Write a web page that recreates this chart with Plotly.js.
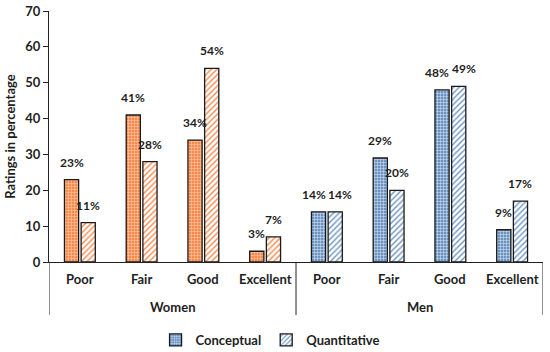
<!DOCTYPE html>
<html>
<head>
<meta charset="utf-8">
<script src="https://cdn.plot.ly/plotly-3.0.1.min.js"></script>
<style>html,body{margin:0;padding:0;background:#fff;}#chart{width:550px;height:352px;}</style>
</head>
<body>
<div id="chart"></div>
<script>
var ratings = ["Poor", "Fair", "Good", "Excellent"];
var groups = ["Women", "Men"];
var womenConceptual = [23, 41, 34, 3];
var womenQuantitative = [11, 28, 54, 7];
var menConceptual = [14, 29, 48, 9];
var menQuantitative = [14, 20, 49, 17];
var yTicks = [0, 10, 20, 30, 40, 50, 60, 70];

var FONT = "Lato, 'Open Sans', sans-serif";
var TXT = "#1e1e1e";
var orange = "#F7884C", orangeLight = "#FDC9A8";
var blue = "#6A93C2", blueLight = "#CCDCEE";

function keys(group) {
  return ratings.map(function(r){ return group + " " + r; });
}
function conceptualTrace(group, vals, col, light, show) {
  return {
    type: "bar", name: "Conceptual", x: keys(group), y: vals,
    offsetgroup: "c", legendgroup: "c", showlegend: show,
    marker: {color: col, line: {color: "#1a1a1a", width: 1.3},
      pattern: {shape: "+", fgcolor: light, bgcolor: col, size: 3, solidity: 0.35}},
    hoverinfo: "skip"
  };
}
function quantTrace(group, vals, col, show) {
  return {
    type: "bar", name: "Quantitative", x: keys(group), y: vals,
    offsetgroup: "q", legendgroup: "q", showlegend: show,
    marker: {color: "#ffffff", line: {color: "#1a1a1a", width: 1.3},
      pattern: {shape: "/", fgcolor: col, bgcolor: "#ffffff", size: 4, solidity: 0.35}},
    hoverinfo: "skip"
  };
}

var data = [
  conceptualTrace(groups[0], womenConceptual, orange, orangeLight, false),
  quantTrace(groups[0], womenQuantitative, orange, false),
  conceptualTrace(groups[1], menConceptual, blue, blueLight, true),
  quantTrace(groups[1], menQuantitative, blue, true)
];

var BARGAP = 0.46;
var CAT_PX = 494 / 8;
var halfSlot = (1 - BARGAP) * CAT_PX / 4;

var annotations = [];
var labelFont = {family: FONT, size: 12, color: TXT, weight: "bold"};
function addValueLabels(group, vals, other, sign) {
  keys(group).forEach(function(k, i) {
    var close = Math.abs(vals[i] - other[i]) < 4;
    annotations.push({x: k, y: vals[i], xref: "x", yref: "y", text: vals[i] + "%",
      showarrow: false, xshift: sign * (halfSlot + (close ? 5 : 0)), yanchor: "bottom", yshift: 8,
      font: labelFont});
  });
}
addValueLabels(groups[0], womenConceptual, womenQuantitative, -1);
addValueLabels(groups[0], womenQuantitative, womenConceptual, 1);
addValueLabels(groups[1], menConceptual, menQuantitative, -1);
addValueLabels(groups[1], menQuantitative, menConceptual, 1);

var catFont = {family: FONT, size: 13, color: TXT, weight: "bold"};
groups.forEach(function(g, gi) {
  keys(g).forEach(function(k, i) {
    annotations.push({x: k, y: 0, xref: "x", yref: "paper", text: ratings[i], showarrow: false,
      yanchor: "middle", yshift: -17, font: catFont});
  });
  annotations.push({x: gi * ratings.length + (ratings.length - 1) / 2, y: 0, xref: "x", yref: "paper",
    text: g, showarrow: false, yanchor: "middle", yshift: -45, font: catFont});
});

var shapes = [];
[-0.5, ratings.length - 0.5, 2 * ratings.length - 0.5].forEach(function(xv) {
  shapes.push({type: "line", xref: "x", yref: "paper", x0: xv, x1: xv, y0: 0, y1: -53 / 251,
    line: {color: "#222", width: 1}});
});

var layout = {
  width: 550, height: 352,
  margin: {l: 49, r: 7, t: 11, b: 90, autoexpand: false},
  paper_bgcolor: "#fff", plot_bgcolor: "#fff",
  barmode: "group", bargap: BARGAP, bargroupgap: 0.15,
  showlegend: true,
  legend: {orientation: "h", xref: "container", yref: "container",
    x: 0.491, xanchor: "center", y: 12 / 352, yanchor: "middle",
    font: {family: FONT, size: 13, color: TXT, weight: "bold"}, traceorder: "normal",
    itemwidth: 30},
  font: {family: FONT, color: TXT},
  annotations: annotations,
  shapes: shapes,
  xaxis: {type: "category", showline: true, linecolor: "#222", linewidth: 1,
    showticklabels: false, ticks: "", showgrid: false, zeroline: false, automargin: false,
    range: [-0.5, 2 * ratings.length - 0.5]},
  yaxis: {range: [0, 70], tickvals: yTicks, ticktext: yTicks.map(String), automargin: false,
    showline: true, linecolor: "#222", linewidth: 1, ticks: "outside", ticklen: 5, tickcolor: "#222",
    showgrid: false, zeroline: false,
    tickfont: {family: FONT, size: 13, color: TXT, weight: "bold"},
    title: {text: "Ratings in percentage", font: {family: FONT, size: 13, color: TXT, weight: "bold"}, standoff: 6}}
};

Plotly.newPlot("chart", data, layout, {displayModeBar: false, staticPlot: true});
</script>
</body>
</html>
